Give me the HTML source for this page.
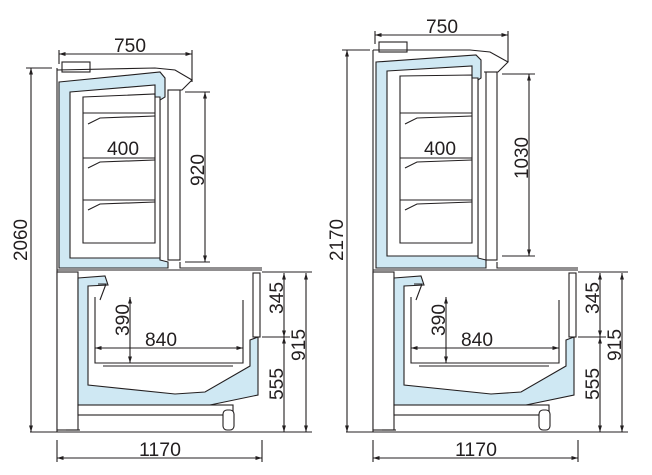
<!DOCTYPE html>
<html><head><style>
html,body{margin:0;padding:0;background:#fff}
svg{display:block}
text{font-family:"Liberation Sans Narrow","Liberation Sans",sans-serif;font-size:19px;fill:#231f20;text-anchor:middle}
</style></head><body>
<svg width="652" height="475" viewBox="0 0 652 475" xmlns="http://www.w3.org/2000/svg">
<defs>
<marker id="a" viewBox="0 0 10 10" refX="10" refY="5" markerWidth="6" markerHeight="6" orient="auto-start-reverse"><path d="M0,2 L10,5 L0,8 Z" fill="#231f20"/></marker>
<g id="lower" stroke="#231f20" stroke-width="1.1" fill="none">
  <path d="M57,270 L262,270"/>
  <rect x="57" y="272" width="21" height="158" fill="#fff"/>
  <path d="M78,278 L105,276 L108,285 L88,286 L88,385 L175,394 L205,392 L250,366 L250,340 L258,337 L258,395 L210,405 L78,405 Z" fill="#cfe8f3"/>
  <path d="M98,284 L106,284 L100,300"/>
  <path d="M95,297 L95,363 L243,363 L243,300"/>
  <path d="M103,366 L233,366"/>
  <rect x="253" y="273" width="7" height="64" fill="#fff"/>
  <rect x="78" y="405" width="155" height="10" fill="#fff"/>
  <rect x="223" y="410" width="11" height="20" rx="4" fill="#fff"/>
  <path d="M66,430 L80,430"/>
  <path d="M30,432 L262,432"/>
  <path d="M95,348 L243,348" marker-start="url(#a)" marker-end="url(#a)"/>
  <path d="M130,297 L130,363" marker-start="url(#a)" marker-end="url(#a)"/>
  <path d="M284,273 L284,337" marker-start="url(#a)" marker-end="url(#a)"/>
  <path d="M284,337 L284,432" marker-start="url(#a)" marker-end="url(#a)"/>
  <path d="M306,273 L306,432" marker-start="url(#a)" marker-end="url(#a)"/>
  <path d="M262,272 L312,272 M262,337 L290,337 M262,432 L312,432"/>
  <path d="M57,458 L262,458" marker-start="url(#a)" marker-end="url(#a)"/>
  <path d="M57,440 L57,462 M262,440 L262,462"/>
</g>
</defs>

<g stroke="#231f20" stroke-width="1.1" fill="none">
  <path d="M57,68 L57,432"/>
  <rect x="62" y="62" width="28" height="10" fill="#fff"/>
  <path d="M57,70 L155,68 L175,70 L192,80 L182,90 L168,90"/>
  <path d="M59,82 L160,72 L165,78 L165,97 L160,100 L160,260 L168,262 L168,268 L59,268 Z" fill="#cfe8f3"/>
  <path d="M70,92 L155,85 L155,97 L160,97 L160,258 L70,258 Z" fill="#fff"/>
  <path d="M83,97 L155,94 L155,243 L83,243 Z"/>
  <path d="M83,113 L155,113 M83,158 L155,158 M83,200 L155,200"/>
  <path d="M88,124 L100,118 L155,116 M88,168 L100,162 L155,160 M88,210 L100,204 L155,202"/>
  <rect x="168" y="90" width="12" height="170" fill="#fff"/>
  <path d="M180,262 L180,268 L262,268"/>
  <path d="M59,54 L192,54" marker-start="url(#a)" marker-end="url(#a)"/>
  <path d="M59,50 L59,64 M192,50 L192,82"/>
  <path d="M205,92 L205,262" marker-start="url(#a)" marker-end="url(#a)"/>
  <path d="M185,92 L210,92 M185,262 L210,262"/>
  <path d="M31,68 L31,432" marker-start="url(#a)" marker-end="url(#a)"/>
  <path d="M26,68 L52,68"/>
</g>
<use href="#lower"/>
<text x="130" y="52" textLength="32" lengthAdjust="spacingAndGlyphs">750</text>
<text x="123" y="155" textLength="32" lengthAdjust="spacingAndGlyphs">400</text>
<text x="161" y="346" textLength="32" lengthAdjust="spacingAndGlyphs">840</text>
<text x="160" y="456" textLength="42" lengthAdjust="spacingAndGlyphs">1170</text>
<text transform="translate(204,170) rotate(-90)" textLength="32" lengthAdjust="spacingAndGlyphs">920</text>
<text transform="translate(27,240) rotate(-90)" textLength="42" lengthAdjust="spacingAndGlyphs">2060</text>
<text transform="translate(129,320) rotate(-90)" textLength="32" lengthAdjust="spacingAndGlyphs">390</text>
<text transform="translate(283,298) rotate(-90)" textLength="32" lengthAdjust="spacingAndGlyphs">345</text>
<text transform="translate(283,384) rotate(-90)" textLength="32" lengthAdjust="spacingAndGlyphs">555</text>
<text transform="translate(305,345) rotate(-90)" textLength="32" lengthAdjust="spacingAndGlyphs">915</text>

<g stroke="#231f20" stroke-width="1.1" fill="none">
  <path d="M373,50 L373,432"/>
  <rect x="379" y="42" width="28" height="10" fill="#fff"/>
  <path d="M373,50 L470,50 L490,52 L508,62 L498,72 L484,72"/>
  <path d="M376,62 L476,55 L481,60 L481,78 L478,80 L478,258 L486,260 L486,268 L376,268 Z" fill="#cfe8f3"/>
  <path d="M387,71 L472,66 L472,78 L478,78 L478,256 L387,256 Z" fill="#fff"/>
  <path d="M400,76 L472,75 L472,243 L400,243 Z"/>
  <path d="M400,113 L472,113 M400,158 L472,158 M400,200 L472,200"/>
  <path d="M405,124 L417,118 L472,116 M405,168 L417,162 L472,160 M405,210 L417,204 L472,202"/>
  <rect x="486" y="72" width="11" height="188" fill="#fff"/>
  <path d="M497,262 L497,268 L578,268"/>
  <path d="M375,35 L508,35" marker-start="url(#a)" marker-end="url(#a)"/>
  <path d="M375,31 L375,44 M508,31 L508,62"/>
  <path d="M529,74 L529,256" marker-start="url(#a)" marker-end="url(#a)"/>
  <path d="M502,74 L535,74 M502,256 L535,256"/>
  <path d="M347,50 L347,432" marker-start="url(#a)" marker-end="url(#a)"/>
  <path d="M342,50 L370,50"/>
</g>
<use href="#lower" transform="translate(316,0)"/>
<text x="442" y="33" textLength="32" lengthAdjust="spacingAndGlyphs">750</text>
<text x="440" y="155" textLength="32" lengthAdjust="spacingAndGlyphs">400</text>
<text x="477" y="346" textLength="32" lengthAdjust="spacingAndGlyphs">840</text>
<text x="476" y="456" textLength="42" lengthAdjust="spacingAndGlyphs">1170</text>
<text transform="translate(528,158) rotate(-90)" textLength="42" lengthAdjust="spacingAndGlyphs">1030</text>
<text transform="translate(343,240) rotate(-90)" textLength="42" lengthAdjust="spacingAndGlyphs">2170</text>
<text transform="translate(445,320) rotate(-90)" textLength="32" lengthAdjust="spacingAndGlyphs">390</text>
<text transform="translate(599,298) rotate(-90)" textLength="32" lengthAdjust="spacingAndGlyphs">345</text>
<text transform="translate(599,384) rotate(-90)" textLength="32" lengthAdjust="spacingAndGlyphs">555</text>
<text transform="translate(621,345) rotate(-90)" textLength="32" lengthAdjust="spacingAndGlyphs">915</text>
</svg>
</body></html>
